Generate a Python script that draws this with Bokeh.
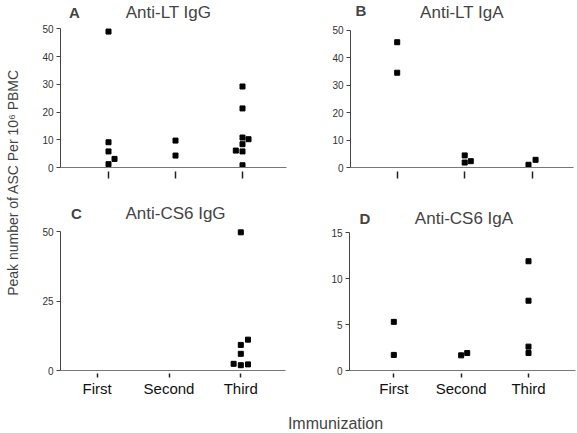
import math
from bokeh.plotting import figure
from bokeh.models import Label, FixedTicker, Range1d
from bokeh.layouts import row, column
from bokeh.embed import file_html
from bokeh.resources import INLINE

FONT = "Liberation Sans"
categories = ["First", "Second", "Third"]

# Panel A: Anti-LT IgG
a_first = [49.0, 9.1, 5.8, 1.2, 3.1]
a_first_dx = [0, 0, 0, 0, 0.09]
a_second = [9.7, 4.3]
a_second_dx = [0, 0]
a_third = [29.2, 21.3, 10.8, 8.4, 5.8, 0.8, 10.2, 6.1]
a_third_dx = [0, 0, 0, 0, 0, 0, 0.09, -0.1]

# Panel B: Anti-LT IgA
b_first = [45.6, 34.5]
b_first_dx = [0, 0]
b_second = [4.4, 1.8, 2.3]
b_second_dx = [0, 0, 0.09]
b_third = [1.0, 2.8]
b_third_dx = [-0.055, 0.05]

# Panel C: Anti-CS6 IgG
c_first = []
c_first_dx = []
c_second = []
c_second_dx = []
c_third = [49.7, 11.1, 9.2, 6.0, 2.4, 1.9, 2.2]
c_third_dx = [0, 0.1, 0, 0, -0.1, 0, 0.1]

# Panel D: Anti-CS6 IgA
d_first = [5.3, 1.7]
d_first_dx = [0, 0]
d_second = [1.65, 1.9]
d_second_dx = [0, 0.09]
d_third = [11.9, 7.6, 2.6, 1.9]
d_third_dx = [0, 0, 0, 0]

ticks_50 = [0, 10, 20, 30, 40, 50]
ticks_c = [0, 25, 50]
ticks_d = [0, 5, 10, 15]


def panel(groups, fig_box, frame_lr, cat_px, zero_px, top_val, top_px,
          yticks, bottom, letter, title, lpos, tpos):
    fx0, fy0, fx1, fy1 = fig_box
    fl, fr = frame_lr
    c1, c3 = cat_px
    kx = (c3 - c1) / 2.0
    ky = (zero_px - top_px) / top_val
    to_x = lambda px: 1 + (px - c1) / kx
    to_y = lambda py: (zero_px - py) / ky
    xr = Range1d(to_x(fl), to_x(fr))
    yr = Range1d(0, to_y(fy0))
    p = figure(width=fx1 - fx0, height=fy1 - fy0, x_range=xr, y_range=yr,
               output_backend="svg", toolbar_location=None,
               min_border_left=fl - fx0, min_border_right=fx1 - fr,
               min_border_top=0, min_border_bottom=fy1 - zero_px)
    p.outline_line_color = None
    p.grid.visible = False
    xs, ys = [], []
    for cat, vals, dxs in groups:
        base = categories.index(cat) + 1
        for v, d in zip(vals, dxs):
            xs.append(base + d)
            ys.append(v)
    p.scatter(xs, ys, marker="square", size=5, color="black")
    xa = p.xaxis[0]
    xa.ticker = FixedTicker(ticks=[1, 2, 3])
    if bottom:
        xa.major_label_overrides = {1: "First", 2: "Second", 3: "Third"}
        xa.major_tick_in = -3
        xa.major_tick_out = 7
        xa.major_label_standoff = 2
        xa.major_label_text_font_size = "15px"
    else:
        xa.major_label_overrides = {1: "", 2: "", 3: ""}
        xa.major_tick_in = -4
        xa.major_tick_out = 11
        xa.major_label_text_font_size = "1px"
    xa.major_label_text_font = FONT
    xa.major_label_text_color = "#111"
    xa.minor_tick_line_color = None
    xa.axis_line_color = "#777"
    xa.major_tick_line_color = "#222"
    xa.major_tick_line_width = 1.5
    ya = p.yaxis[0]
    ya.bounds = (0, top_val)
    ya.ticker = FixedTicker(ticks=yticks)
    ya.major_tick_in = 0
    ya.major_tick_out = 4
    ya.minor_tick_line_color = None
    ya.axis_line_color = "#444"
    ya.major_tick_line_color = "#444"
    ya.major_label_text_font = FONT
    ya.major_label_text_font_size = "10px"
    ya.major_label_text_color = "#333"
    ya.major_label_standoff = 3
    p.add_layout(Label(x=to_x(lpos[0]), y=to_y(lpos[1]), text=letter,
                       text_font=FONT, text_font_size="15px",
                       text_font_style="bold", text_align="center",
                       text_baseline="middle"))
    p.add_layout(Label(x=to_x(tpos[0]), y=to_y(tpos[1]), text=title,
                       text_font=FONT, text_font_size="17px",
                       text_align="center", text_baseline="middle"))
    return p


pa = panel([("First", a_first, a_first_dx), ("Second", a_second, a_second_dx),
            ("Third", a_third, a_third_dx)],
           (27, 0, 300, 198), (60, 286), (108, 242), 167, 50, 28.3, ticks_50,
           False, "A", "Anti-LT IgG", (74, 12), (168, 12))
pb = panel([("First", b_first, b_first_dx), ("Second", b_second, b_second_dx),
            ("Third", b_third, b_third_dx)],
           (300, 0, 576, 198), (350, 573), (396.7, 531.7), 169, 50, 30, ticks_50,
           False, "B", "Anti-LT IgA", (360.5, 10), (461.5, 12))
pc = panel([("First", c_first, c_first_dx), ("Second", c_second, c_second_dx),
            ("Third", c_third, c_third_dx)],
           (27, 198, 300, 403), (60, 285), (96.7, 240.3), 370, 50, 231, ticks_c,
           True, "C", "Anti-CS6 IgG", (76, 213), (175, 213))
pd_ = panel([("First", d_first, d_first_dx), ("Second", d_second, d_second_dx),
             ("Third", d_third, d_third_dx)],
            (300, 198, 576, 403), (349, 575), (393.3, 528), 372, 15, 232.7,
            ticks_d, True, "D", "Anti-CS6 IgA", (364.5, 218), (463.5, 218))


def blank(w, h):
    f = figure(width=w, height=h, x_range=Range1d(0, 1), y_range=Range1d(0, 1),
               output_backend="svg", toolbar_location=None,
               min_border=0, outline_line_color=None)
    f.axis.visible = False
    f.grid.visible = False
    return f


ylab = blank(27, 432)
ylab.add_layout(Label(x=12 / 27, y=1 - 182 / 432,
                      text="Peak number of ASC Per 10\u2076 PBMC",
                      angle=math.pi / 2, text_font=FONT, text_font_size="14px",
                      text_align="center", text_baseline="middle"))
xlab = blank(549, 29)
xlab.add_layout(Label(x=(335 - 27) / 549, y=1 - 20 / 29, text="Immunization",
                      text_font=FONT, text_font_size="16px",
                      text_align="center", text_baseline="middle"))

layout = row(ylab, column(row(pa, pb), row(pc, pd_), xlab))
open("out.html", "w").write(file_html(layout, INLINE))
